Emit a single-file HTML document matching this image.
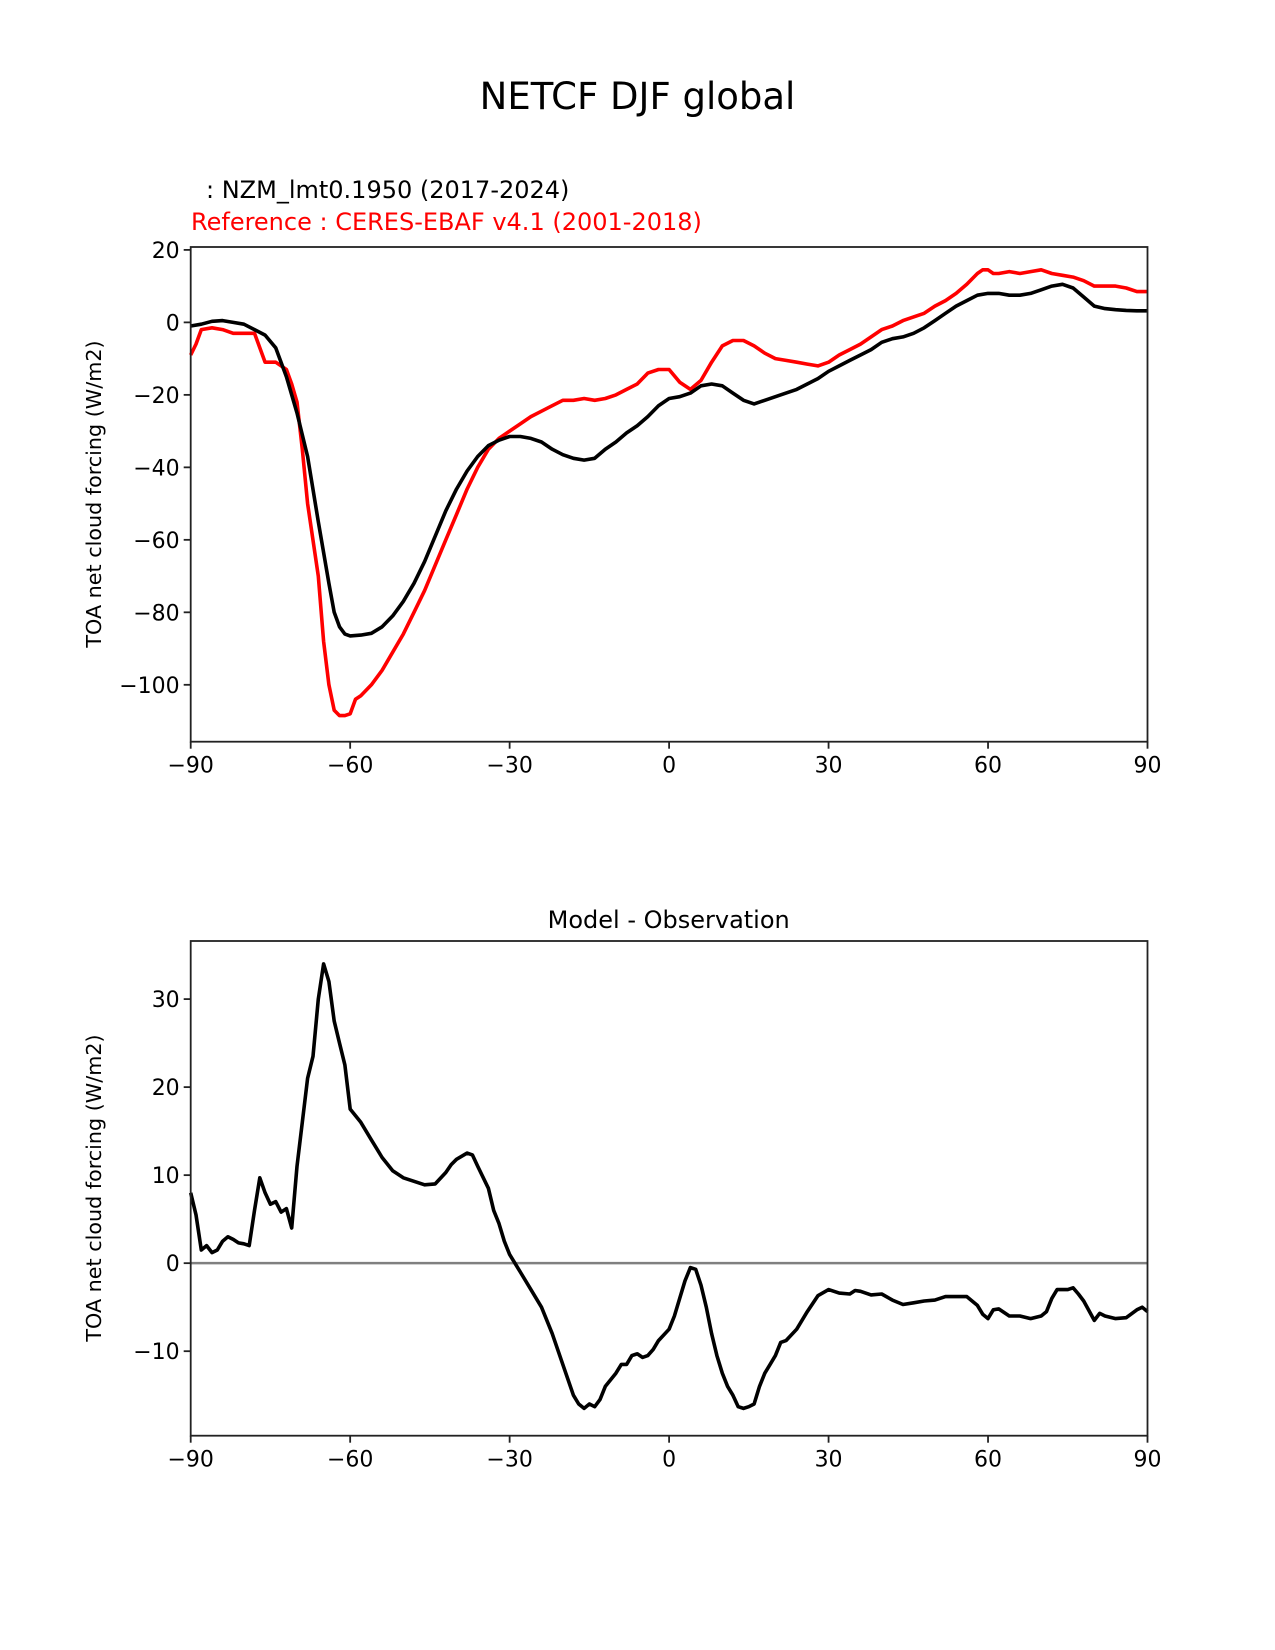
<!DOCTYPE html>
<html><head><meta charset="utf-8"><style>
html,body{margin:0;padding:0;background:#fff;}
svg{display:block;font-family:"DejaVu Sans","Liberation Sans",sans-serif;}
</style></head><body>
<svg id="fig" width="1275" height="1650" viewBox="0 0 1275 1650" xmlns="http://www.w3.org/2000/svg">
<rect width="1275" height="1650" fill="#fff"/>
<text x="637.5" y="109" font-size="37" text-anchor="middle">NETCF DJF global</text>
<text x="206" y="198" font-size="24">: NZM_lmt0.1950 (2017-2024)</text>
<text x="191" y="230" font-size="24" fill="#ff0000">Reference : CERES-EBAF v4.1 (2001-2018)</text>
<text x="668.7" y="928" font-size="24" text-anchor="middle">Model - Observation</text>
<g id="top"></g>
<g id="bot"></g>
</svg>
<script>
const xTicks=[-90,-60,-30,0,30,60,90];
const xTickLabels=["\u221290","\u221260","\u221230","0","30","60","90"];
const topYTicks=[20,0,-20,-40,-60,-80,-100];
const topYTickLabels=["20","0","\u221220","\u221240","\u221260","\u221280","\u2212100"];
const botYTicks=[30,20,10,0,-10];
const botYTickLabels=["30","20","10","0","\u221210"];
const modelLat=[-90,-88,-86,-84,-82,-80,-78,-76,-74,-72,-70,-68,-66,-64,-63,-62,-61,-60,-58,-56,-54,-52,-50,-48,-46,-44,-42,-40,-38,-36,-34,-32,-30,-28,-26,-24,-22,-20,-18,-16,-14,-12,-10,-8,-6,-4,-2,0,2,4,6,8,10,12,14,16,18,20,22,24,26,28,30,32,34,36,38,40,42,44,46,48,50,52,54,56,58,60,62,64,66,68,70,72,74,76,78,80,82,84,86,88,90];
const modelVal=[-1,-0.5,0.3,0.5,0,-0.5,-2,-3.5,-7,-15,-25,-37,-55,-72,-80,-84,-86,-86.5,-86.3,-85.8,-84,-81,-77,-72,-66,-59,-52,-46,-41,-37,-34,-32.5,-31.5,-31.5,-32,-33,-35,-36.5,-37.5,-38,-37.5,-35,-33,-30.5,-28.5,-26,-23,-21,-20.5,-19.5,-17.5,-17,-17.5,-19.5,-21.5,-22.5,-21.5,-20.5,-19.5,-18.5,-17,-15.5,-13.5,-12,-10.5,-9,-7.5,-5.5,-4.5,-4,-3,-1.5,0.5,2.5,4.5,6,7.5,8,8,7.5,7.5,8,9,10,10.5,9.5,7,4.5,3.8,3.5,3.3,3.2,3.2];
const obsLat=[-90,-89,-88,-86,-84,-82,-80,-78,-76,-74,-72,-71,-70,-69,-68,-66,-65,-64,-63,-62,-61,-60,-59,-58,-56,-54,-52,-50,-48,-46,-44,-42,-40,-38,-36,-34,-32,-30,-28,-26,-24,-22,-20,-18,-16,-14,-12,-10,-8,-6,-4,-2,0,2,4,6,8,10,12,14,16,18,20,22,24,26,28,30,32,34,36,38,40,42,44,46,48,50,52,54,56,58,59,60,61,62,64,66,68,70,72,74,76,78,80,82,84,86,88,90];
const obsVal=[-9,-6,-2,-1.5,-2,-3,-3,-3,-11,-11,-13,-17,-22,-35,-50,-70,-88,-100,-107,-108.5,-108.5,-108,-104,-103,-100,-96,-91,-86,-80,-74,-67,-60,-53,-46,-40,-35,-32,-30,-28,-26,-24.5,-23,-21.5,-21.5,-21,-21.5,-21,-20,-18.5,-17,-14,-13,-13,-16.5,-18.5,-16,-11,-6.5,-5,-5,-6.5,-8.5,-10,-10.5,-11,-11.5,-12,-11,-9,-7.5,-6,-4,-2,-1,0.5,1.5,2.5,4.5,6,8,10.5,13.5,14.5,14.5,13.5,13.5,14,13.5,14,14.5,13.5,13,12.5,11.5,10,10,10,9.5,8.5,8.5];
const diffLat=[-90,-89,-88,-87,-86,-85,-84,-83,-82,-81,-80,-79,-78,-77,-76,-75,-74,-73,-72,-71,-70,-69,-68,-67,-66,-65,-64,-63,-62,-61,-60,-58,-56,-54,-52,-50,-48,-46,-44,-42,-41,-40,-38,-37,-36,-34,-33,-32,-31,-30,-28,-26,-24,-22,-20,-18,-17,-16,-15,-14,-13,-12,-10,-9,-8,-7,-6,-5,-4,-3,-2,0,1,2,3,4,5,6,7,8,9,10,11,12,13,14,15,16,17,18,19,20,21,22,24,26,28,30,32,34,35,36,38,40,42,44,46,48,50,52,54,56,58,59,60,61,62,64,66,68,70,71,72,73,74,75,76,77,78,80,81,82,84,86,88,89,90];
const diffVal=[8,5.5,1.5,2,1.2,1.5,2.5,3,2.7,2.3,2.2,2,6,9.7,8,6.7,7,5.8,6.2,4,11,16,21,23.5,30,34,32,27.5,25,22.5,17.5,16,14,12,10.5,9.7,9.3,8.9,9,10.3,11.2,11.8,12.5,12.3,11,8.5,6,4.5,2.5,1,-1,-3,-5,-8,-11.5,-15,-16,-16.5,-16,-16.3,-15.5,-14,-12.5,-11.5,-11.5,-10.5,-10.3,-10.7,-10.5,-9.8,-8.8,-7.5,-6,-4,-2,-0.5,-0.7,-2.5,-5,-8,-10.5,-12.5,-14,-15,-16.3,-16.5,-16.3,-16,-14,-12.5,-11.5,-10.5,-9,-8.8,-7.5,-5.5,-3.7,-3,-3.4,-3.5,-3.1,-3.2,-3.6,-3.5,-4.2,-4.7,-4.5,-4.3,-4.2,-3.8,-3.8,-3.8,-4.8,-5.8,-6.3,-5.3,-5.2,-6,-6,-6.3,-6,-5.5,-4,-3,-3,-3,-2.8,-3.5,-4.3,-6.5,-5.7,-6,-6.3,-6.2,-5.3,-5,-5.5];

const NS='http://www.w3.org/2000/svg';
function mk(tag,attrs,parent){const e=document.createElementNS(NS,tag);for(const k in attrs)e.setAttribute(k,attrs[k]);parent.appendChild(e);return e;}
const L=190.7,R=1147.5;
function xs(v){return L+(v+90)/180*(R-L);}
function panel(g,top,bottom,ymax,ymin,yTicks,yLabels,labelCy,series,zero){
  const ys=v=>top+(ymax-v)/(ymax-ymin)*(bottom-top);
  if(zero){
    const z=mk('line',{x1:L,x2:R,y1:ys(0),y2:ys(0),stroke:'#808080','stroke-width':2.5},g);
    
    
  }
  series.forEach(s=>{
    const d=s.lat.map((v,i)=>(i?'L':'M')+xs(v).toFixed(1)+' '+ys(s.val[i]).toFixed(1)).join(' ');
    const p=mk('path',{d:d,fill:'none',stroke:s.color,'stroke-width':3.6,'stroke-linejoin':'round'},g);
    
    
  });
  const f=mk('rect',{x:L,y:top,width:R-L,height:bottom-top,fill:'none',stroke:'#222','stroke-width':1.8},g);
  
  
  xTicks.forEach((t,i)=>{
    const x=xs(t);
    const tk=mk('line',{x1:x,x2:x,y1:bottom,y2:bottom+7,stroke:'#222','stroke-width':1.8},g);
    
    
    const tx=mk('text',{x:x,y:bottom+31,'font-size':22,'text-anchor':'middle'},g);
    tx.textContent=xTickLabels[i];
    
    
  });
  yTicks.forEach((t,i)=>{
    const y=ys(t);
    const tk=mk('line',{x1:L-7,x2:L,y1:y,y2:y,stroke:'#222','stroke-width':1.8},g);
    
    
    const tx=mk('text',{x:L-11,y:y+8,'font-size':22,'text-anchor':'end'},g);
    tx.textContent=yLabels[i];
    
    
  });
  const yl=mk('text',{x:0,y:0,'font-size':20.7,'text-anchor':'middle',transform:'translate(101,'+labelCy+') rotate(-90)'},g);
  yl.textContent='TOA net cloud forcing (W/m2)';
  
  
}
panel(document.getElementById('top'),247,741.7,20.8,-115.7,topYTicks,topYTickLabels,494,
  [{lat:obsLat,val:obsVal,color:'#ff0000',name:'observation-line'},{lat:modelLat,val:modelVal,color:'#000',name:'model-line'}],false);
panel(document.getElementById('bot'),941,1435.7,36.6,-19.6,botYTicks,botYTickLabels,1188,
  [{lat:diffLat,val:diffVal,color:'#000',name:'difference-line'}],true);
</script>
</body></html>
